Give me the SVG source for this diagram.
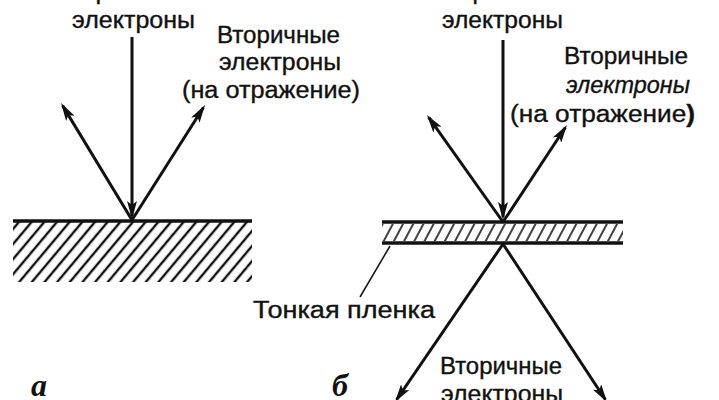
<svg xmlns="http://www.w3.org/2000/svg" width="719" height="400" viewBox="0 0 719 400">
<style>
.lbl{font-family:"Liberation Sans","DejaVu Sans",sans-serif;font-size:23px;fill:#111;stroke:#111;stroke-width:0.35;}
.it{font-style:italic;}
.fig{font-family:"Liberation Serif","DejaVu Serif",serif;font-size:32px;font-style:italic;font-weight:bold;fill:#111;}
.ray{stroke:#111;stroke-width:3;fill:none;}
.edge{stroke:#111;stroke-width:3.5;fill:none;}
.lead{stroke:#111;stroke-width:1.5;fill:none;}
</style>
<defs>
<marker id="ah" viewBox="0 0 18 10" refX="15" refY="5" markerWidth="18" markerHeight="10" orient="auto" markerUnits="userSpaceOnUse">
<path d="M0,0 L18,5 L0,10 L4,5 z" fill="#111"/>
</marker>
<pattern id="hatchA" patternUnits="userSpaceOnUse" width="9.7" height="20" patternTransform="rotate(40)">
<line x1="2" y1="-2" x2="2" y2="22" stroke="#111" stroke-width="2.4"/>
</pattern>
<pattern id="hatchB" patternUnits="userSpaceOnUse" width="9" height="20" patternTransform="rotate(28)">
<line x1="2" y1="-2" x2="2" y2="22" stroke="#111" stroke-width="1.6"/>
</pattern>
</defs>
<rect width="719" height="400" fill="#fff"/>

<g id="surface-a">
<rect x="13" y="222" width="239" height="60" fill="url(#hatchA)"/>
<line class="edge" x1="13" y1="221" x2="252" y2="221"/>
</g>

<g id="film-b">
<rect x="382" y="224" width="241" height="17" fill="url(#hatchB)"/>
<line class="edge" x1="382" y1="222" x2="623" y2="222"/>
<line class="edge" x1="382" y1="243" x2="623" y2="243"/>
</g>

<g id="connectors">
<line class="ray" x1="132" y1="37" x2="132" y2="216" marker-end="url(#ah)"/>
<line class="ray" x1="132" y1="220" x2="62.6" y2="105.6" marker-end="url(#ah)"/>
<line class="ray" x1="132" y1="220" x2="203.4" y2="107.5" marker-end="url(#ah)"/>
<line class="ray" x1="503" y1="40" x2="503" y2="217" marker-end="url(#ah)"/>
<line class="ray" x1="503" y1="222" x2="428.7" y2="117.4" marker-end="url(#ah)"/>
<line class="ray" x1="503" y1="222" x2="565.3" y2="127.5" marker-end="url(#ah)"/>
<line class="ray" x1="503" y1="244" x2="396.7" y2="399.5" marker-end="url(#ah)"/>
<line class="ray" x1="503" y1="244" x2="605.3" y2="399.5" marker-end="url(#ah)"/>
<line class="lead" x1="390" y1="246" x2="360" y2="297"/>
</g>

<g id="labels-a">
<text class="lbl" x="63" y="-1" textLength="134" lengthAdjust="spacingAndGlyphs">Первичные</text>
<text class="lbl" x="72" y="28" textLength="123" lengthAdjust="spacingAndGlyphs">электроны</text>
<text class="lbl" x="217" y="43" textLength="123" lengthAdjust="spacingAndGlyphs">Вторичные</text>
<text class="lbl" x="219" y="70" textLength="122" lengthAdjust="spacingAndGlyphs">электроны</text>
<text class="lbl" x="182" y="98" textLength="178" lengthAdjust="spacingAndGlyphs">(на отражение)</text>
<text class="fig" x="31" y="396">а</text>
</g>

<g id="labels-b">
<text class="lbl" x="442" y="-1" textLength="126" lengthAdjust="spacingAndGlyphs">Первичные</text>
<text class="lbl" x="442" y="28" textLength="121" lengthAdjust="spacingAndGlyphs">электроны</text>
<text class="lbl" x="564" y="64" textLength="124" lengthAdjust="spacingAndGlyphs">Вторичные</text>
<text class="lbl it" x="566" y="93" textLength="124" lengthAdjust="spacingAndGlyphs">электроны</text>
<text class="lbl" x="510" y="122" textLength="185" lengthAdjust="spacingAndGlyphs">(на отражение<tspan font-weight="bold">)</tspan></text>
<text class="lbl" x="253" y="318" textLength="182" lengthAdjust="spacingAndGlyphs">Тонкая пленка</text>
<text class="lbl" x="440" y="374" textLength="122" lengthAdjust="spacingAndGlyphs">Вторичные</text>
<text class="lbl" x="441" y="402" textLength="122" lengthAdjust="spacingAndGlyphs">электроны</text>
<text class="fig" x="332" y="396">б</text>
</g>
</svg>
